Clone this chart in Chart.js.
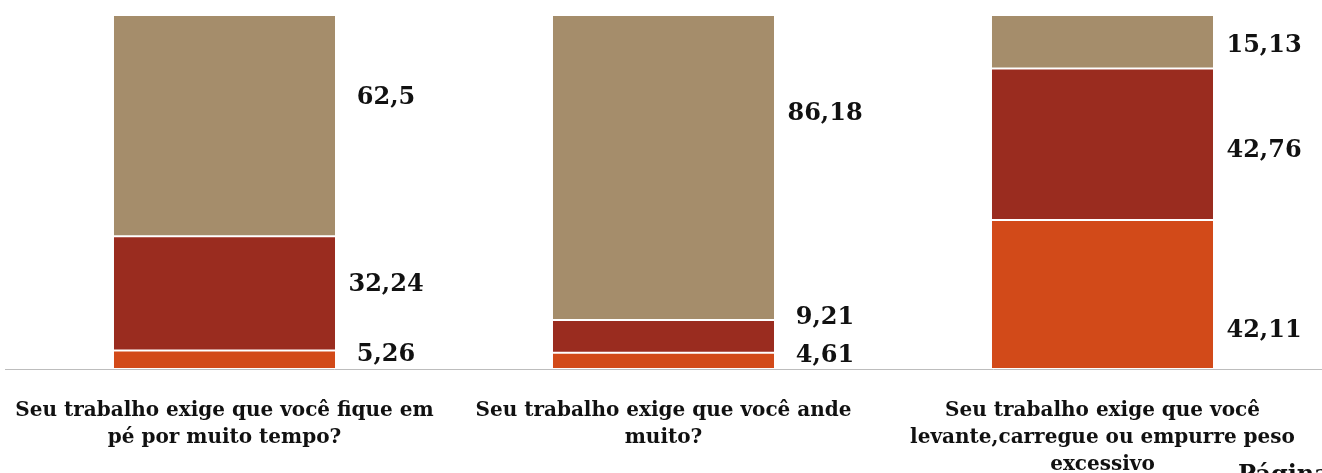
<!DOCTYPE html>
<html>
<head>
<meta charset="utf-8">
<script src="https://cdn.jsdelivr.net/npm/chart.js@4.4.1/dist/chart.umd.min.js"></script>
<style>
  html, body { margin: 0; padding: 0; background: #fff; }
  #wrap { position: relative; width: 1322px; height: 473px; overflow: hidden; }
</style>
</head>
<body>
<div id="wrap"><canvas id="c" width="1322" height="473"></canvas></div>
<script>
// Question categories (wrapped as they appear under each bar)
const categories = [
  ["Seu trabalho exige que você fique em", "pé por muito tempo?"],
  ["Seu trabalho exige que você ande", "muito?"],
  ["Seu trabalho exige que você", "levante,carregue ou empurre peso", "excessivo"]
];

// Percentages per answer, stacked bottom to top
const seriesNames = ["Sempre", "Às vezes", "Nunca"];
const sempre  = [5.26, 4.61, 42.11];
const asVezes = [32.24, 9.21, 42.76];
const nunca   = [62.5, 86.18, 15.13];

const colors = ["#D24A19", "#9A2C1F", "#A58D6B"];

// vertical nudges (px) for the value labels beside each segment
const labelNudge = [
  [-5, -5, 36],
  [-9, -19, 7],
  [-28, -54, 4]
];

const fmt = v => String(v).replace('.', ',');

const valueLabels = {
  id: 'valueLabels',
  afterDatasetsDraw(chart) {
    const ctx = chart.ctx;
    ctx.save();
    ctx.font = 'bold 24px "DejaVu Serif"';
    ctx.fillStyle = '#111';
    ctx.textAlign = 'center';
    ctx.textBaseline = 'middle';
    chart.data.datasets.forEach((ds, di) => {
      const meta = chart.getDatasetMeta(di);
      meta.data.forEach((el, i) => {
        const x = el.x + el.width / 2 + 50;
        const y = (el.y + el.base) / 2 + labelNudge[di][i];
        ctx.fillText(fmt(ds.data[i]), x, y);
      });
    });
    // page footer text running off the bottom edge
    ctx.font = 'bold 24px "DejaVu Serif"';
    ctx.textAlign = 'left';
    ctx.textBaseline = 'alphabetic';
    ctx.fillText('Página', 1238, 482);
    ctx.restore();
  }
};

new Chart(document.getElementById('c'), {
  type: 'bar',
  data: {
    labels: categories,
    datasets: [sempre, asVezes, nunca].map((d, i) => ({
      label: seriesNames[i],
      data: d,
      backgroundColor: colors[i],
      borderColor: 'rgba(255,255,255,0.4)',
      borderWidth: 1,
      borderSkipped: false,
      barPercentage: 0.508,
      categoryPercentage: 1
    }))
  },
  options: {
    responsive: false,
    animation: false,
    layout: { padding: { left: 5, right: 0, top: 15, bottom: 0 } },
    plugins: { legend: { display: false }, tooltip: { enabled: false } },
    scales: {
      x: {
        stacked: true,
        grid: { display: false, drawTicks: false },
        border: { display: true, color: '#bdbdbd', width: 1 },
        ticks: {
          color: '#111',
          padding: 28,
          maxRotation: 0,
          autoSkip: false,
          font: { family: '"DejaVu Serif"', weight: 'bold', size: 20, lineHeight: 1.35 }
        },
        afterFit(scale) {
          scale.height = 104;
          scale.paddingLeft = 0;
          scale.paddingRight = 0;
        }
      },
      y: {
        stacked: true,
        display: false,
        min: 0,
        max: 100
      }
    }
  },
  plugins: [valueLabels]
});
</script>
</body>
</html>
